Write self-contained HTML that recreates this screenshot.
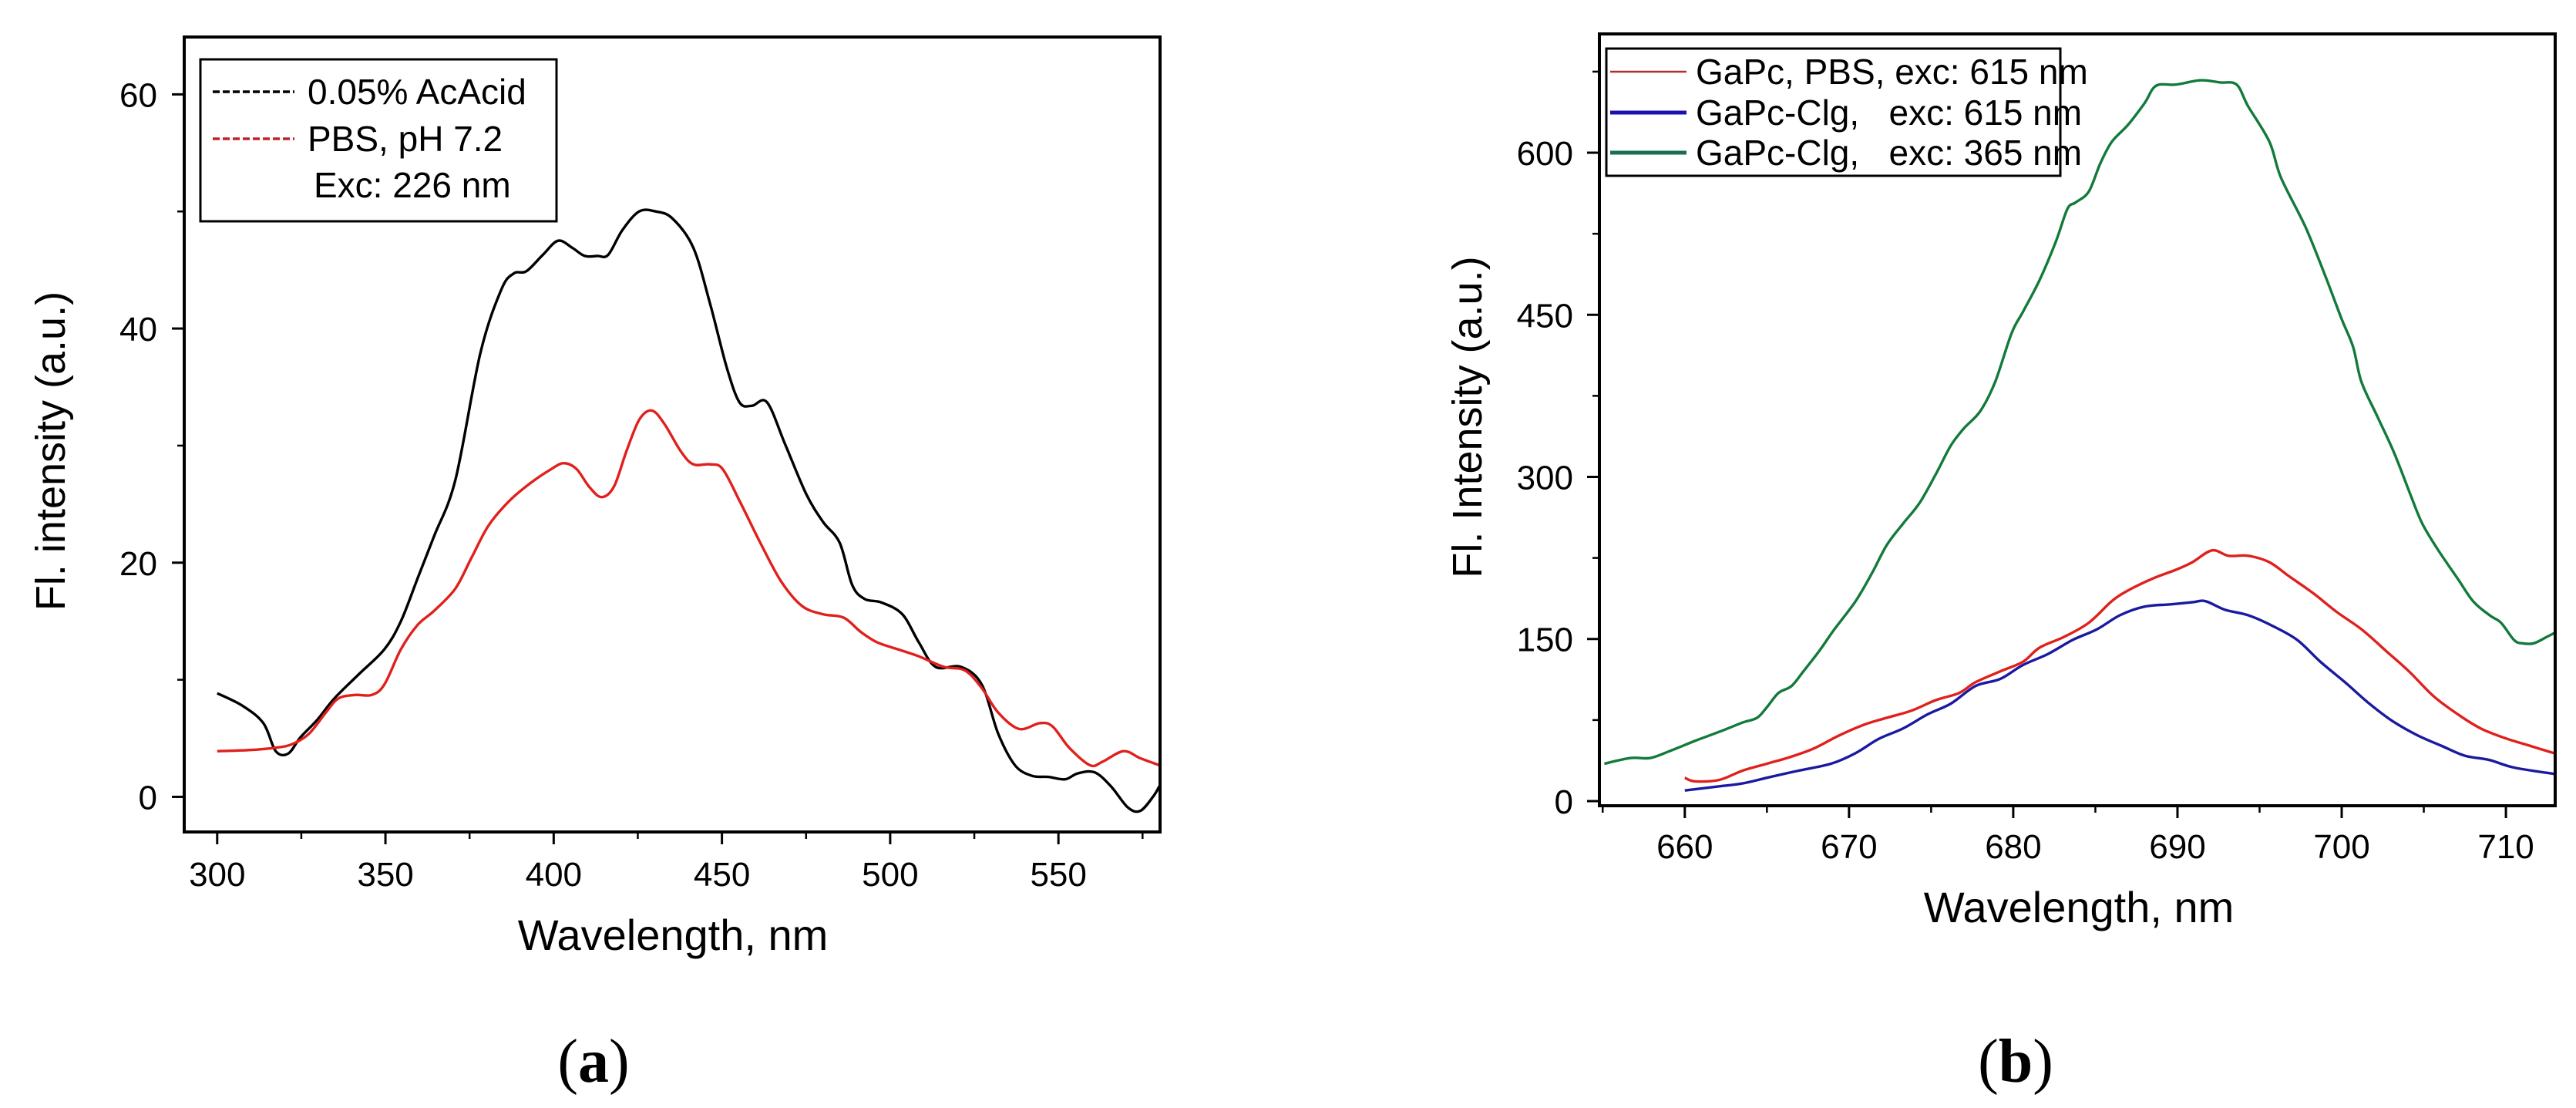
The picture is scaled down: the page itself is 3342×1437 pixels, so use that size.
<!DOCTYPE html>
<html><head><meta charset="utf-8"><style>
html,body{margin:0;padding:0;background:#fff;}
svg{display:block;font-family:"Liberation Sans",sans-serif;}
</style></head><body>
<svg id="fig" width="3342" height="1437" viewBox="0 0 3342 1437" xmlns="http://www.w3.org/2000/svg">
<rect width="3342" height="1437" fill="#fff"/>
<g id="chartA"></g>
<g id="chartB"></g>
<text x="770" y="1403" text-anchor="middle" font-family="Liberation Serif,serif" font-size="80">(<tspan font-weight="bold">a</tspan>)</text>
<text x="2615" y="1403" text-anchor="middle" font-family="Liberation Serif,serif" font-size="80">(<tspan font-weight="bold">b</tspan>)</text>
</svg>
<script>
// Chart A data
const aBlackX=[300,307.4,313.7,317.4,321.1,324.8,329.8,334.8,342.2,349.7,354.6,359.6,364.5,370.8,378.2,384.4,388.1,391.9,396.8,401.3,405.5,409.2,413,416.2,420.4,425.4,430.3,435.3,441.5,446.5,451.4,455.2,458.9,463.4,468.8,475,480,485,488.7,492.4,497.4,503.6,508.5,513.5,521,527.2,532.1,537.1,542.1,547,552,555.7,560.7,565.6,570.6,574.3,578.1,580];
const aBlackY=[8.85,7.8,6.3,3.9,3.7,5.1,6.6,8.4,10.5,12.6,15.0,18.7,22.3,27.1,37.9,43.3,44.7,44.9,46.3,47.5,46.9,46.2,46.2,46.3,48.4,50.0,50.0,49.4,46.9,42.1,36.7,33.7,33.4,33.7,30.1,25.9,23.5,21.7,18.1,16.9,16.6,15.6,13.2,11.1,11.1,9.6,5.4,2.7,1.8,1.7,1.5,2.0,2.1,0.9,-0.9,-1.2,0,0.9];
const aRedX=[300,309.9,317.4,322.3,327.3,332.3,336,341,345.9,349.7,354.6,359.6,364.5,370.8,375.7,380.7,386.9,393.1,399.3,403,406.8,410.5,414.2,417.9,421.6,425.4,429.1,432.8,437.8,441.5,446.5,450.2,455.2,461.4,467.6,473.8,480,486.2,491.2,496.1,502.3,508.5,516,522.2,527.2,532.1,538.3,544.5,548.3,553.2,559.4,563.1,569.3,574.3,580];
const aRedY=[3.9,4.0,4.2,4.5,5.4,7.2,8.4,8.7,8.7,9.6,12.6,14.7,15.9,17.8,20.5,23.2,25.3,26.8,28.0,28.5,28.0,26.5,25.6,26.5,29.5,32.2,33.0,31.9,29.5,28.4,28.4,28.0,25.3,21.7,18.4,16.3,15.6,15.3,14.1,13.2,12.6,12.0,11.1,10.8,9.3,7.2,5.8,6.3,6.0,4.2,2.7,3.0,3.9,3.3,2.7];
const aXTicks=[300,350,400,450,500,550];
const aYTicks=[0,20,40,60];
// Chart B data
const bGreenX=[655.1,656.7,657.9,659.1,660.6,662.1,663.5,664.4,665,665.7,666.5,667.2,668.2,669.1,670.4,671.4,672.3,673.3,674.3,675.3,676.2,677,678,678.9,679.9,680.6,681.6,682.6,683.3,683.8,684.6,685.3,686,687,688,688.7,689.9,691.4,692.6,693.6,694.3,695.6,696.3,697.8,699,700,700.7,701.2,702.2,703.2,704.2,704.9,705.8,707.1,708,709,709.7,710.5,711,711.7,712.5,713];
const bGreenY=[34.6,39.9,39.9,46.4,55.6,64.1,72.6,77.1,86.9,100,106.5,119.6,139.2,158.8,185,211,237,257,276,303,329,345,361,388,433,453,482,518,548,554,564,590,610,626,646,662,663,667,665,663,643,610,577,531,486,446,420,388,355,322,283,257,234,205,185,172,165,149,146,146,152,156];
const bRedX=[660,660.6,662.1,663.5,665,666.5,667.9,669.4,670.9,672.3,673.8,675.3,676.7,677.7,679.2,680.6,681.6,683.1,684.6,686,687,688.5,689.9,690.9,692.1,693.1,694.3,695.6,696.8,698.3,699.7,701.2,702.7,704.1,705.6,707.1,708.5,710,711.5,713];
const bRedY=[21.6,18.3,19.6,28.1,34.6,41.2,49,60.8,70.6,77.1,83.7,93.5,100,110,120,129,142,152,165,185,195,206,214,221,232,227,227,221,208,192,175,159,139,120,97,80,67,58,51,44];
const bBlueX=[660,662.1,663.5,665,666.9,668.9,670.4,671.8,673.3,674.8,676.2,677.7,679.2,680.6,682.1,683.6,685.1,686.5,688,689.5,690.9,691.7,692.9,694.3,695.8,697.3,698.7,700.2,701.7,703.1,704.6,706.1,707.5,709,710.5,713];
const bBlueY=[9.8,13.7,16.3,21.6,28.1,34.6,44.4,57.5,67.3,80.4,90.2,106.5,113,126,136,149,159,172,180,182,184,185,177,172,162,149,129,110,90,74,61,51,42,38,31,25];
const bXTicks=[660,670,680,690,700,710];
const bYTicks=[0,150,300,450,600];

const NS="http://www.w3.org/2000/svg";
function mk(parent,tag,attrs){const e=document.createElementNS(NS,tag);for(const k in attrs)e.setAttribute(k,attrs[k]);parent.appendChild(e);return e;}
function smoothPath(pts){
  let d="M"+pts[0][0].toFixed(1)+","+pts[0][1].toFixed(1);
  for(let i=0;i<pts.length-1;i++){
    const p0=pts[Math.max(0,i-1)],p1=pts[i],p2=pts[i+1],p3=pts[Math.min(pts.length-1,i+2)];
    const c1x=p1[0]+(p2[0]-p0[0])/6,c1y=p1[1]+(p2[1]-p0[1])/6;
    const c2x=p2[0]-(p3[0]-p1[0])/6,c2y=p2[1]-(p3[1]-p1[1])/6;
    d+="C"+c1x.toFixed(1)+","+c1y.toFixed(1)+" "+c2x.toFixed(1)+","+c2y.toFixed(1)+" "+p2[0].toFixed(1)+","+p2[1].toFixed(1);
  }
  return d;
}

function drawChart(g,cfg){
  const sx=v=>cfg.L+(v-cfg.x0)/(cfg.x1-cfg.x0)*(cfg.R-cfg.L);
  const sy=v=>cfg.B-(v-cfg.y0)/(cfg.y1-cfg.y0)*(cfg.B-cfg.T);
  cfg.series.forEach(s=>{
    const pts=s.x.map((x,i)=>[sx(x),sy(s.y[i])]);
    const p=mk(g,"path",{d:smoothPath(pts),fill:"none",stroke:s.color,"stroke-width":3.4,"stroke-linejoin":"round"});
    
    
  });
  const fr=mk(g,"rect",{x:cfg.L,y:cfg.T,width:cfg.R-cfg.L,height:cfg.B-cfg.T,fill:"none",stroke:"#000","stroke-width":4});
  
  
  cfg.xt.forEach((t,i)=>{
    const x=sx(t);
    const tk=mk(g,"line",{x1:x,y1:cfg.B,x2:x,y2:cfg.B+16,stroke:"#000","stroke-width":3});
    
    
    const tl=mk(g,"text",{x:x,y:cfg.xly,"text-anchor":"middle","font-size":44});
    tl.textContent=t;
    
    
    const m=t+cfg.xstep/2;
    if(m<=cfg.x1){const mx=sx(m);const mt=mk(g,"line",{x1:mx,y1:cfg.B,x2:mx,y2:cfg.B+9,stroke:"#000","stroke-width":2.5});
      
      }
    if(i===0&&t-cfg.xstep/2>=cfg.x0){const mx=sx(t-cfg.xstep/2);mk(g,"line",{x1:mx,y1:cfg.B,x2:mx,y2:cfg.B+9,stroke:"#000","stroke-width":2.5});}
  });
  cfg.yt.forEach(t=>{
    const y=sy(t);
    const tk=mk(g,"line",{x1:cfg.L,y1:y,x2:cfg.L-16,y2:y,stroke:"#000","stroke-width":3});
    
    
    const tl=mk(g,"text",{x:cfg.ylx,y:y+16,"text-anchor":"end","font-size":44});
    tl.textContent=t;
    
    
    const m=t+cfg.ystep/2;
    if(m<=cfg.y1){const my=sy(m);const mt=mk(g,"line",{x1:cfg.L,y1:my,x2:cfg.L-9,y2:my,stroke:"#000","stroke-width":2.5});
      
      }
  });
  const xt=mk(g,"text",{x:cfg.xtx,y:cfg.xty,"text-anchor":"middle","font-size":56});
  xt.textContent="Wavelength, nm";
  
  
  const yt=mk(g,"text",{x:0,y:0,"text-anchor":"middle","font-size":54,transform:"translate("+cfg.ytx+","+cfg.yty+") rotate(-90)"});
  yt.textContent=cfg.ytitle;
  
  
  const lg=mk(g,"g",{});
  
  
  mk(lg,"rect",{x:cfg.lg.x,y:cfg.lg.y,width:cfg.lg.w,height:cfg.lg.h,fill:"#fff",stroke:"#000","stroke-width":3});
  cfg.lg.items.forEach(it=>{
    if(it.color){const ln=mk(lg,"line",{x1:cfg.lg.lx1,y1:it.y,x2:cfg.lg.lx2,y2:it.y,stroke:it.color,"stroke-width":it.w||3.5,"stroke-dasharray":it.dash||"none"});
      
      }
    const tx=mk(lg,"text",{x:it.tx||cfg.lg.tx,y:it.y+16,"font-size":46});
    tx.textContent=it.label;
    tx.style.whiteSpace="pre";
    tx.setAttribute('xml:space','preserve');
    
    
  });
}

drawChart(document.getElementById("chartA"),{
  L:239,R:1505,T:48,B:1079,x0:290.2,x1:580.2,y0:-3.0,y1:64.9,xstep:50,ystep:20,
  xt:aXTicks,yt:aYTicks,xly:1149,ylx:204,xtx:873,xty:1232,ytx:84,yty:585,ytitle:"Fl. intensity (a.u.)",
  series:[{x:aBlackX,y:aBlackY,color:"#000",name:"acacid-curve"},{x:aRedX,y:aRedY,color:"#e0201c",name:"pbs-curve"}],
  lg:{x:260,y:77,w:462,h:210,lx1:276,lx2:382,tx:399,items:[
    {y:119,color:"#000",dash:"9,4",label:"0.05% AcAcid"},
    {y:180,color:"#c0202a",dash:"9,4",label:"PBS, pH 7.2"},
    {y:240,label:"Exc: 226 nm",tx:407}]}
});
drawChart(document.getElementById("chartB"),{
  L:2075,R:3315,T:44,B:1045,x0:654.8,x1:713,y0:-4.3,y1:709.9,xstep:10,ystep:150,
  xt:bXTicks,yt:bYTicks,xly:1113,ylx:2041,xtx:2697,xty:1196,ytx:1922,yty:541,ytitle:"Fl. Intensity (a.u.)",
  series:[{x:bGreenX,y:bGreenY,color:"#127a3a",name:"gapc-clg-365-curve"},{x:bRedX,y:bRedY,color:"#e0201c",name:"gapc-pbs-615-curve"},{x:bBlueX,y:bBlueY,color:"#1a1aa0",name:"gapc-clg-615-curve"}],
  lg:{x:2084,y:63,w:589,h:165,lx1:2089,lx2:2188,tx:2200,items:[
    {y:93,color:"#b03030",w:2.5,label:"GaPc, PBS, exc: 615 nm"},
    {y:146,color:"#1a10b0",w:5,label:"GaPc-Clg,   exc: 615 nm"},
    {y:198,color:"#1a6e50",w:5,label:"GaPc-Clg,   exc: 365 nm"}]}
});
</script>
</body></html>
